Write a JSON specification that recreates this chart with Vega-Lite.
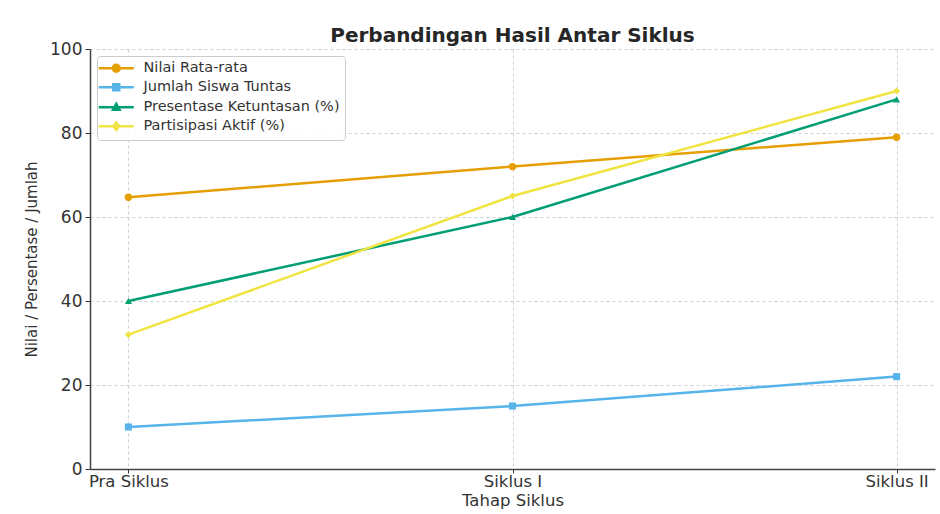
{
  "$schema": "https://vega.github.io/schema/vega-lite/v6.json",
  "width": 845,
  "height": 420,
  "autosize": {"type": "none"},
  "padding": {"left": 90, "top": 49, "right": 5, "bottom": 45},
  "background": "white",
  "title": {
    "text": "Perbandingan Hasil Antar Siklus",
    "font": "DejaVu Sans",
    "fontSize": 20,
    "fontWeight": "bold",
    "color": "#262626",
    "anchor": "middle",
    "offset": -6
  },
  "data": {
    "values": [
      {"tahap": "Pra Siklus", "seri": "Nilai Rata-rata", "nilai": 64.7},
      {"tahap": "Siklus I", "seri": "Nilai Rata-rata", "nilai": 72},
      {"tahap": "Siklus II", "seri": "Nilai Rata-rata", "nilai": 79},
      {"tahap": "Pra Siklus", "seri": "Jumlah Siswa Tuntas", "nilai": 10},
      {"tahap": "Siklus I", "seri": "Jumlah Siswa Tuntas", "nilai": 15},
      {"tahap": "Siklus II", "seri": "Jumlah Siswa Tuntas", "nilai": 22},
      {"tahap": "Pra Siklus", "seri": "Presentase Ketuntasan (%)", "nilai": 40},
      {"tahap": "Siklus I", "seri": "Presentase Ketuntasan (%)", "nilai": 60},
      {"tahap": "Siklus II", "seri": "Presentase Ketuntasan (%)", "nilai": 88},
      {"tahap": "Pra Siklus", "seri": "Partisipasi Aktif (%)", "nilai": 32},
      {"tahap": "Siklus I", "seri": "Partisipasi Aktif (%)", "nilai": 65},
      {"tahap": "Siklus II", "seri": "Partisipasi Aktif (%)", "nilai": 90}
    ]
  },
  "encoding": {
    "x": {
      "field": "tahap",
      "type": "ordinal",
      "sort": ["Pra Siklus", "Siklus I", "Siklus II"],
      "scale": {"type": "point", "padding": 0.1},
      "title": "Tahap Siklus",
      "axis": {
        "labelAngle": 0,
        "labelFont": "DejaVu Sans",
        "labelFontSize": 16.5,
        "labelColor": "#333333",
        "labelPadding": 0,
        "tickSize": 4,
        "tickColor": "#333333",
        "domainColor": "#444444",
        "domainWidth": 1.5,
        "titleFont": "DejaVu Sans",
        "titleFontSize": 16.5,
        "titleFontWeight": "normal",
        "titleColor": "#333333",
        "titlePadding": 3,
        "grid": true,
        "gridDash": [3, 3],
        "gridColor": "#d0d0d0"
      }
    },
    "y": {
      "field": "nilai",
      "type": "quantitative",
      "scale": {"domain": [0, 100], "nice": false},
      "title": "Nilai / Persentase / Jumlah",
      "axis": {
        "values": [0, 20, 40, 60, 80, 100],
        "labelFont": "DejaVu Sans",
        "labelFontSize": 17,
        "labelColor": "#333333",
        "labelPadding": 3,
        "tickSize": 5,
        "tickColor": "#333333",
        "domainColor": "#444444",
        "domainWidth": 1.5,
        "titleFont": "DejaVu Sans",
        "titleFontSize": 15,
        "titleFontWeight": "normal",
        "titleColor": "#333333",
        "titlePadding": 10,
        "grid": true,
        "gridDash": [3, 3],
        "gridColor": "#d0d0d0"
      }
    }
  },
  "layer": [
    {
      "mark": {"type": "line", "strokeWidth": 2.5},
      "encoding": {
        "color": {
          "field": "seri",
          "type": "nominal",
          "scale": {
            "domain": ["Nilai Rata-rata", "Jumlah Siswa Tuntas", "Presentase Ketuntasan (%)", "Partisipasi Aktif (%)"],
            "range": ["#E69F00", "#56B4E9", "#009E73", "#F0E442"]
          },
          "legend": {
            "orient": "top-left",
            "offset": 7,
            "title": null,
            "padding": 5,
            "rowPadding": 2,
            "labelFont": "DejaVu Sans",
            "labelFontSize": 14.5,
            "labelColor": "#333333",
            "labelOffset": 20,
            "labelLimit": 0,
            "symbolSize": 100,
            "symbolOffset": 7,
            "symbolStrokeWidth": 2.5,
            "fillColor": "rgba(255,255,255,0.85)",
            "strokeColor": "#cccccc",
            "cornerRadius": 3,
            "encode": {
              "symbols": {
                "update": {
                  "shape": {"signal": "datum.value === 'Nilai Rata-rata' ? 'M-3.5,0L3.5,0M-0.7,0A0.7,0.7 0 1,0 0.7,0A0.7,0.7 0 1,0 -0.7,0Z' : datum.value === 'Jumlah Siswa Tuntas' ? 'M-3.5,0L3.5,0M-0.6,-0.6L0.6,-0.6L0.6,0.6L-0.6,0.6Z' : datum.value === 'Presentase Ketuntasan (%)' ? 'M-3.5,0L3.5,0M0,-0.7L0.65,0.5L-0.65,0.5Z' : 'M-3.5,0L3.5,0M0,-0.75L0.55,0L0,0.75L-0.55,0Z'"},
                  "fill": {"signal": "scale('color', datum.value)"},
                  "stroke": {"signal": "scale('color', datum.value)"},
                  "fillOpacity": {"value": 1},
                  "strokeWidth": {"value": 2.5}
                }
              }
            }
          }
        }
      }
    },
    {
      "transform": [{"filter": "datum.seri === 'Nilai Rata-rata'"}],
      "mark": {"type": "point", "filled": true, "opacity": 1, "shape": "circle", "size": 55},
      "encoding": {"color": {"field": "seri", "type": "nominal", "legend": null}}
    },
    {
      "transform": [{"filter": "datum.seri === 'Jumlah Siswa Tuntas'"}],
      "mark": {"type": "point", "filled": true, "opacity": 1, "shape": "square", "size": 50},
      "encoding": {"color": {"field": "seri", "type": "nominal", "legend": null}}
    },
    {
      "transform": [{"filter": "datum.seri === 'Presentase Ketuntasan (%)'"}],
      "mark": {"type": "point", "filled": true, "opacity": 1, "shape": "triangle-up", "size": 50},
      "encoding": {"color": {"field": "seri", "type": "nominal", "legend": null}}
    },
    {
      "transform": [{"filter": "datum.seri === 'Partisipasi Aktif (%)'"}],
      "mark": {"type": "point", "filled": true, "opacity": 1, "shape": "diamond", "size": 50},
      "encoding": {"color": {"field": "seri", "type": "nominal", "legend": null}}
    }
  ],
  "config": {
    "view": {"stroke": null},
    "font": "DejaVu Sans"
  }
}
